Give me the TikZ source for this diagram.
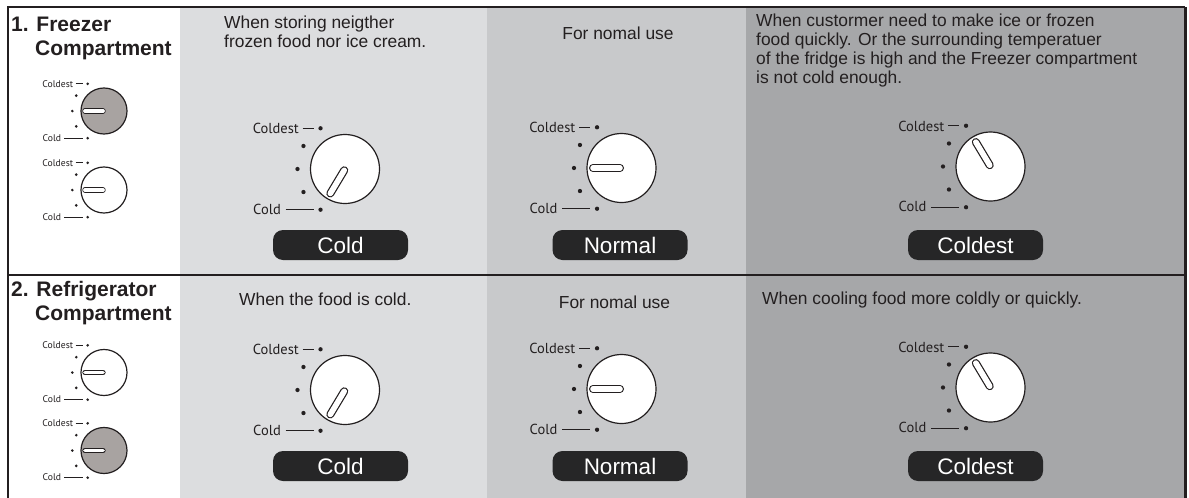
\documentclass[tikz,border=0pt]{standalone}
\usepackage{fontspec}
\setmainfont{Liberation Sans}
\newfontfamily\labelfont{PT Sans}
\definecolor{ink}{HTML}{231F20}
\definecolor{colA}{HTML}{DCDDDF}
\definecolor{colB}{HTML}{C8C9CB}
\definecolor{colC}{HTML}{A6A7A9}
\definecolor{knobgray}{HTML}{A8A3A1}
\definecolor{badgecol}{HTML}{262627}
\tikzset{
  body/.style={font=\fontsize{17.4}{19}\selectfont, text=ink, inner sep=0pt, align=left},
  head/.style={font=\bfseries\fontsize{21}{24}\selectfont, text=ink, inner sep=0pt, anchor=base west},
  badge/.style={fill=badgecol, text=white, rounded corners=10pt, minimum width=135pt,
    minimum height=30pt, inner sep=0pt, font=\fontsize{22.5}{24}\selectfont},
  dialface/.style={circle, draw=ink, line width=1.2pt, inner sep=0pt},
  dialdot/.style={circle, fill=ink, inner sep=0pt},
  dialtick/.style={draw=ink, line width=0.9pt},
  diallabel/.style={inner sep=0pt, anchor=base east, text=ink},
}
% #1 name, #2 cx, #3 cy, #4 scale, #5 pointer angle, #6 face fill
\newcommand\dialknob[6]{%
  \begin{scope}[shift={(#2,#3)}]
    \pgfmathsetmacro\lblsize{14.5*#4}
    \node[dialface, minimum size={69*#4}, fill=#6] (#1) at (0,0) {};
    \foreach \a/\k in {-121/t, -151/u, 180/m, 151/l, 121/b}
      \node[dialdot, minimum size={4.3*#4}] (#1-\k) at (\a:{47.5*#4}) {};
    \node[diallabel, font=\labelfont\fontsize{\lblsize}{\lblsize}\selectfont] (#1-hi) at ({-46*#4},{-35.5*#4}) {Coldest};
    \node[diallabel, font=\labelfont\fontsize{\lblsize}{\lblsize}\selectfont] (#1-lo) at ({-64*#4},{45*#4}) {Cold};
    \draw[dialtick, line width={0.9*#4+0.2}] ([xshift={-18*#4}]#1-t.center) -- ([xshift={-7*#4}]#1-t.center);
    \draw[dialtick, line width={0.9*#4+0.2}] ([xshift={-35*#4}]#1-b.center) -- ([xshift={-7*#4}]#1-b.center);
    \draw[ink, line width={8*#4}, line cap=round] (#5:{1.5*#4}) -- (#5:{28.5*#4});
    \draw[white, line width={5.6*#4}, line cap=round] (#5:{1.5*#4}) -- (#5:{28.5*#4});
  \end{scope}}
\begin{document}
\begin{tikzpicture}[x=1pt, y=-1pt]
  \useasboundingbox (0,0) rectangle (1189,498);
  \clip (0,0) rectangle (1189,498);
  % backgrounds
  \fill[white] (0,0) rectangle (1189,498);
  \fill[colA] (180,7) rectangle (487,500);
  \fill[colB] (487,7) rectangle (746,500);
  \fill[colC] (746,7) rectangle (1185,500);
  % frame
  \draw[ink, line width=2.2pt] (8,502) -- (8,7) -- (1185,7);
  \draw[ink, line width=3pt] (1185,7) -- (1185,502);
  \draw[ink, line width=2.2pt] (8,275) -- (1185,275);

  % headers
  \node[head] (h1a) at (11,31) {1. Freezer};
  \node[head] (h1b) at (35,55) {Compartment};
  \node[head] (h2a) at (11,296) {2. Refrigerator};
  \node[head] (h2b) at (35,320) {Compartment};

  % row 1 texts
  \node[body, anchor=north west] (t11) at (224,16) {When storing neigther\\frozen food nor ice cream.};
  \node[body, anchor=base] (t12) at (618,39) {For nomal use};
  \node[body, anchor=north west] (t13) at (756,14) {When custormer need to make ice or frozen\\food quickly. Or the surrounding temperatuer\\of the fridge is high and the Freezer compartment\\is not cold enough.};
  % row 2 texts
  \node[body, anchor=base west] (t21) at (239,305) {When the food is cold.};
  \node[body, anchor=base] (t22) at (614.5,308) {For nomal use};
  \node[body, anchor=base west] (t23) at (762,304) {When cooling food more coldly or quickly.};

  % small knobs
  \dialknob{s1}{104}{111}{0.667}{180}{knobgray}
  \dialknob{s2}{104}{190}{0.667}{180}{white}
  \dialknob{s3}{104}{372.5}{0.667}{180}{white}
  \dialknob{s4}{104}{450.5}{0.667}{180}{knobgray}

  % big knobs row 1
  \dialknob{k11}{345}{169}{1}{121}{white}
  \dialknob{k12}{621.5}{168}{1}{180}{white}
  \dialknob{k13}{990.5}{166.5}{1}{-121}{white}
  % big knobs row 2
  \dialknob{k21}{345}{390}{1}{121}{white}
  \dialknob{k22}{621.5}{389}{1}{180}{white}
  \dialknob{k23}{990.5}{387.5}{1}{-121}{white}

  % badges
  \node[badge] (b11) at (340.5,245) {Cold};
  \node[badge] (b12) at (620,245) {Normal};
  \node[badge] (b13) at (975.5,245) {Coldest};
  \node[badge] (b21) at (340.5,466) {Cold};
  \node[badge] (b22) at (620,466) {Normal};
  \node[badge] (b23) at (975.5,466) {Coldest};
\end{tikzpicture}
\end{document}
